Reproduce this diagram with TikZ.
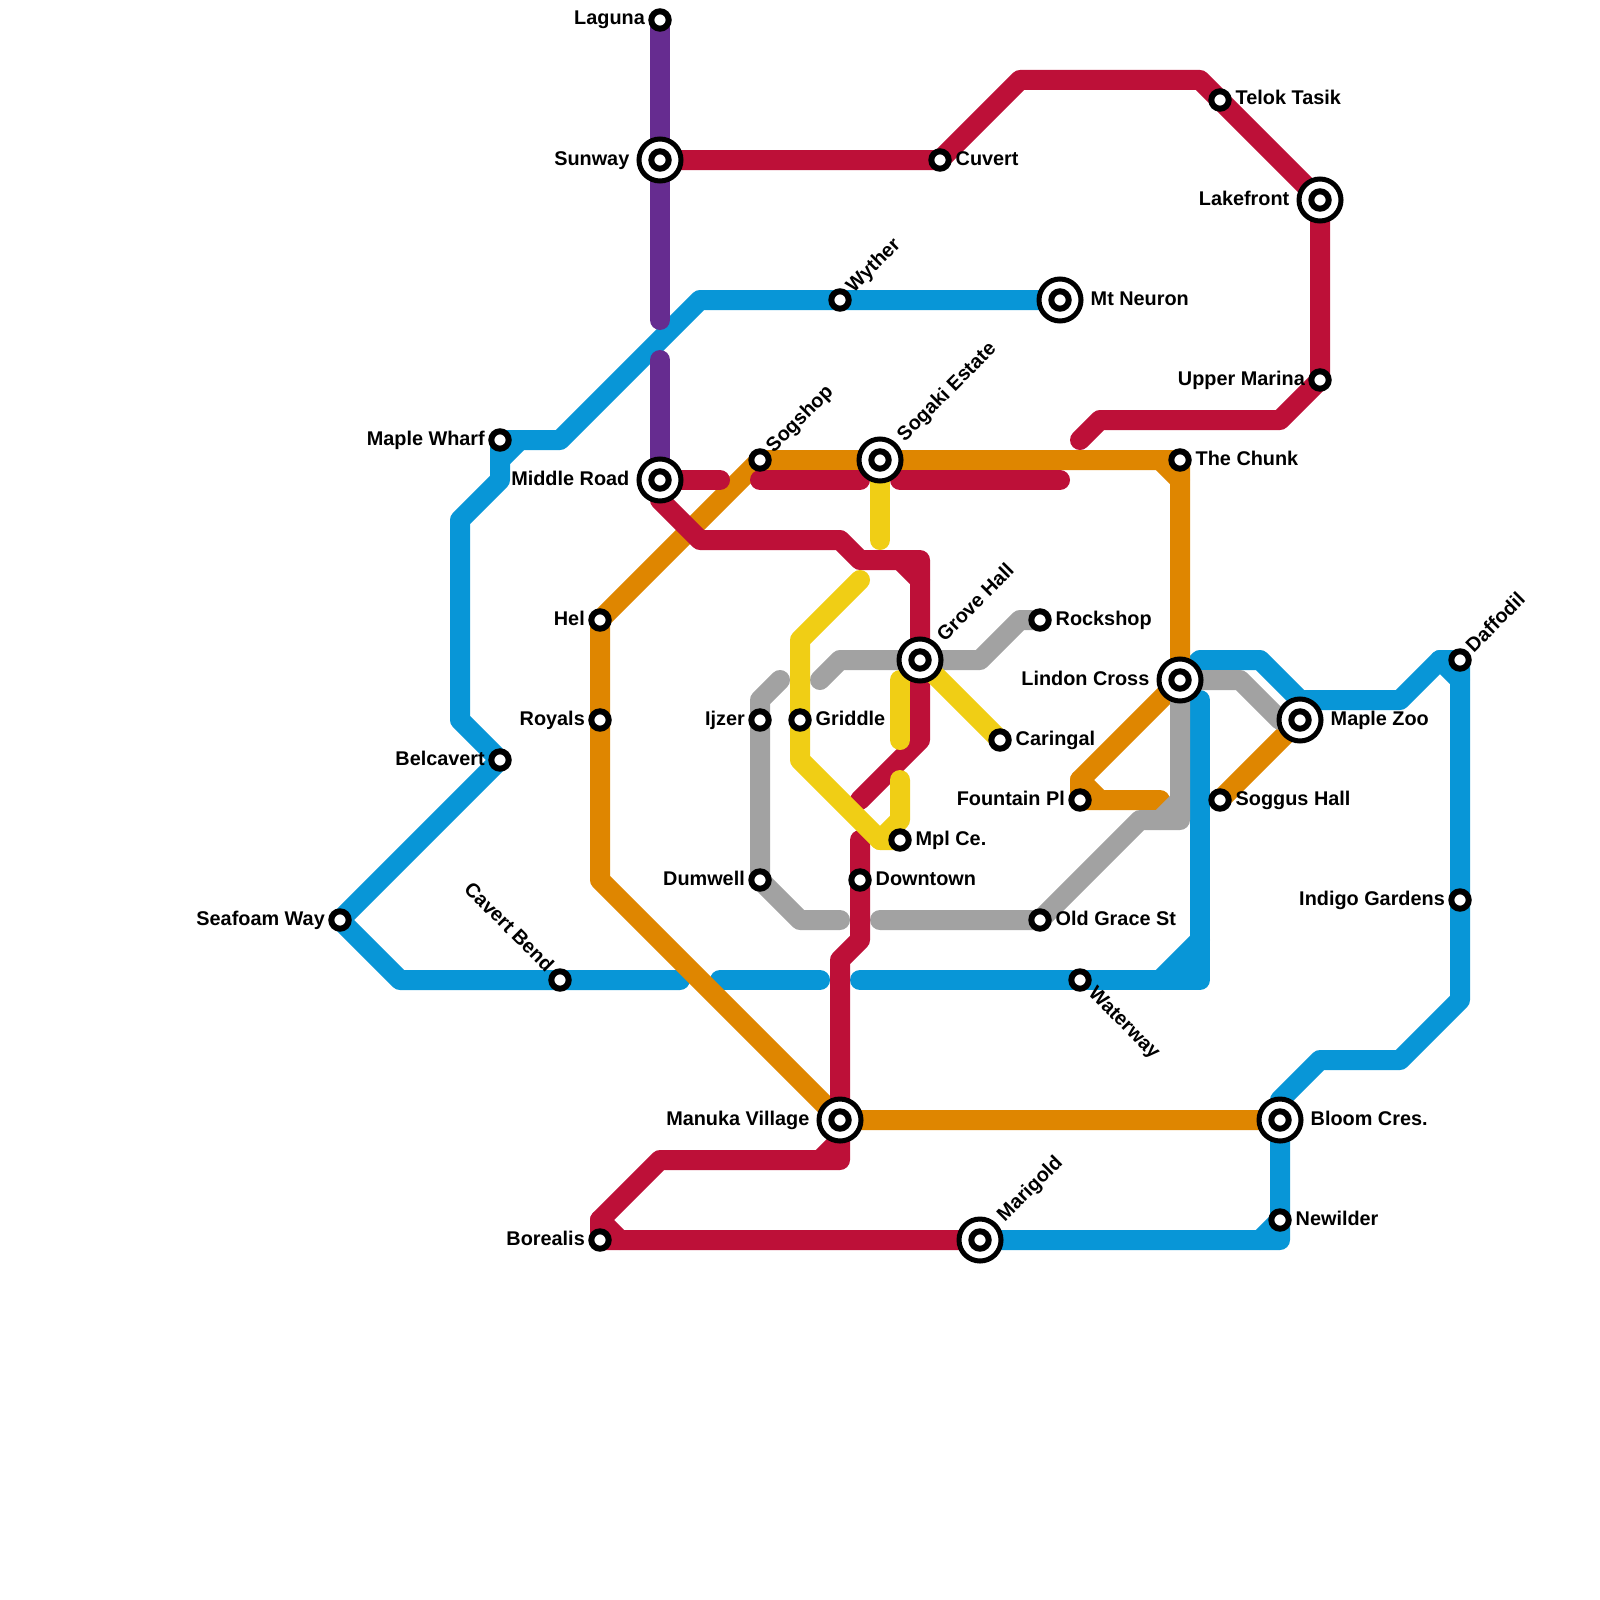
\documentclass[tikz,border=0pt]{standalone}
\usepackage{fontspec}
\setmainfont{Liberation Sans}
\usetikzlibrary{positioning}
\definecolor{railblue}{HTML}{0896D7}
\definecolor{railpurple}{HTML}{662C90}
\definecolor{railred}{HTML}{BD1038}
\definecolor{railorange}{HTML}{DF8600}
\definecolor{railgrey}{HTML}{A2A2A2}
\definecolor{railyellow}{HTML}{F0CE15}
\pgfdeclarelayer{lines}
\pgfsetlayers{lines,main}
\tikzset{
  rail/.style={line width=20pt,line cap=round,line join=round},
  stn/.style={circle,draw=black,fill=white,line width=6pt,inner sep=0pt,minimum size=17.4pt},
  hub/.style={circle,draw=black,fill=white,line width=5pt,inner sep=0pt,minimum size=42pt},
  lbl/.style={inner sep=0pt,font=\fontsize{19.85}{24}\selectfont\bfseries},
  lblW/.style={lbl,anchor=base east,xshift=-15pt,yshift=-5pt},
  lblE/.style={lbl,anchor=base west,xshift=15.5pt,yshift=-5pt},
  lblNE/.style={lbl,anchor=base west,rotate=45,xshift=14.5pt,yshift=-5pt},
  lblSE/.style={lbl,anchor=base west,rotate=-45,xshift=15.5pt,yshift=-5pt},
  lblNW/.style={lbl,anchor=base east,rotate=-45,xshift=-15pt,yshift=-5pt},
  hubW/.style={lbl,anchor=base east,xshift=-30.5pt,yshift=-5pt},
  hubE/.style={lbl,anchor=base west,xshift=30.5pt,yshift=-5pt},
  hubNE/.style={lbl,anchor=base west,rotate=45,xshift=30pt,yshift=-5pt},
}
\begin{document}
\begin{tikzpicture}[x=1pt,y=-1pt]
\useasboundingbox (0,0) rectangle (1600,1600);

% Interchanges
\node[hub] (sunway) at (660,160) {};
\node[hub] (lakefront) at (1320,200) {};
\node[hub] (mtneuron) at (1060,300) {};
\node[hub] (sogaki) at (880,460) {};
\node[hub] (middle) at (660,480) {};
\node[hub] (grove) at (920,660) {};
\node[hub] (lindon) at (1180,680) {};
\node[hub] (maplezoo) at (1300,720) {};
\node[hub] (manuka) at (840,1120) {};
\node[hub] (bloom) at (1280,1120) {};
\node[hub] (marigold) at (980,1240) {};
\foreach \s in {sunway,lakefront,mtneuron,sogaki,middle,grove,lindon,maplezoo,manuka,bloom,marigold}
  \node[stn] (\s-in) at (\s) {};

% Stations
\node[stn] (laguna) at (660,20) {};
\node[stn] (cuvert) at (940,160) {};
\node[stn] (telok) at (1220,100) {};
\node[stn] (upper) at (1320,380) {};
\node[stn] (wyther) at (840,300) {};
\node[stn] (wharf) at (500,440) {};
\node[stn] (sogshop) at (760,460) {};
\node[stn] (chunk) at (1180,460) {};
\node[stn] (hel) at (600,620) {};
\node[stn] (rockshop) at (1040,620) {};
\node[stn] (daffodil) at (1460,660) {};
\node[stn] (royals) at (600,720) {};
\node[stn] (ijzer) at (760,720) {};
\node[stn] (griddle) at (800,720) {};
\node[stn] (caringal) at (1000,740) {};
\node[stn] (belcavert) at (500,760) {};
\node[stn] (fountain) at (1080,800) {};
\node[stn] (soggus) at (1220,800) {};
\node[stn] (mpl) at (900,840) {};
\node[stn] (dumwell) at (760,880) {};
\node[stn] (downtown) at (860,880) {};
\node[stn] (indigo) at (1460,900) {};
\node[stn] (seafoam) at (340,920) {};
\node[stn] (oldgrace) at (1040,920) {};
\node[stn] (cavert) at (560,980) {};
\node[stn] (waterway) at (1080,980) {};
\node[stn] (newilder) at (1280,1220) {};
\node[stn] (borealis) at (600,1240) {};

% Free line ends
\coordinate (bA) at (680,980);
\coordinate (bB) at (720,980);
\coordinate (bC) at (820,980);
\coordinate (bD) at (860,980);
\coordinate (bE) at (1200,700);
\coordinate (pA) at (660,320);
\coordinate (pB) at (660,360);
\coordinate (rA) at (720,480);
\coordinate (rB) at (760,480);
\coordinate (rC) at (860,480);
\coordinate (rD) at (900,480);
\coordinate (rE) at (1060,480);
\coordinate (rF) at (1080,440);
\coordinate (rG) at (860,800);
\coordinate (rH) at (860,840);
\coordinate (oA) at (1160,800);
\coordinate (gA) at (780,680);
\coordinate (gB) at (840,920);
\coordinate (gC) at (880,920);
\coordinate (gD) at (820,680);
\coordinate (yA) at (880,540);
\coordinate (yB) at (860,580);
\coordinate (yC) at (900,680);
\coordinate (yD) at (900,740);
\coordinate (yE) at (900,780);

\begin{pgfonlayer}{lines}
% Blue line
\draw[rail,railblue] (mtneuron.center) -- (wyther.center) -- (700,300) -- (560,440) -- (wharf.center)
    -- (500,480) -- (460,520) -- (460,720) -- (belcavert.center) -- (seafoam.center) -- (400,980)
    -- (cavert.center) -- (bA);
\draw[rail,railblue] (500,460) -- (520,440);
\draw[rail,railblue] (bB) -- (bC);
\draw[rail,railblue] (bD) -- (waterway.center) -- (1200,980) -- (bE);
\draw[rail,railblue] (1160,980) -- (1200,940);
\fill[railblue] (1160,980) -- (1200,940) -- (1200,980) -- cycle;
\draw[rail,railblue] (lindon.center) -- (1200,660) -- (1260,660) -- (1300,700) -- (1400,700) -- (1440,660)
    -- (daffodil.center) -- (indigo.center) -- (1460,1000) -- (1400,1060) -- (1320,1060) -- (1280,1100)
    -- (bloom.center) -- (newilder.center) -- (1280,1240) -- (marigold.center);
\draw[rail,railblue] (1440,660) -- (1460,680);
\draw[rail,railblue] (1260,1240) -- (1280,1220);

% Purple line
\draw[rail,railpurple] (laguna.center) -- (sunway.center) -- (pA);
\draw[rail,railpurple] (pB) -- (middle.center);

% Orange line
\draw[rail,railorange] (hel.center) -- (sogshop.center) -- (sogaki.center) -- (chunk.center)
    -- (lindon.center) -- (1080,780) -- (fountain.center) -- (oA);
\draw[rail,railorange] (1160,460) -- (1180,480);
\draw[rail,railorange] (1080,780) -- (1100,800);
\draw[rail,railorange] (hel.center) -- (royals.center) -- (600,880) -- (manuka.center) -- (bloom.center);
\draw[rail,railorange] (soggus.center) -- (maplezoo.center);

% Grey line
\draw[rail,railgrey] (lindon.center) -- (1180,820) -- (1140,820) -- (oldgrace.center) -- (gC);
\draw[rail,railgrey] (1160,820) -- (1180,800);
\draw[rail,railgrey] (lindon.center) -- (1240,680) -- (1280,720) -- (maplezoo.center);
\draw[rail,railgrey] (gD) -- (840,660) -- (grove.center) -- (980,660) -- (1020,620) -- (rockshop.center);
\draw[rail,railgrey] (gA) -- (760,700) -- (ijzer.center) -- (dumwell.center) -- (800,920) -- (gB);

% Red line
\draw[rail,railred] (sunway.center) -- (cuvert.center) -- (1020,80) -- (1200,80) -- (telok.center)
    -- (lakefront.center) -- (upper.center) -- (1280,420) -- (1100,420) -- (rF);
\draw[rail,railred] (middle.center) -- (rA);
\draw[rail,railred] (rB) -- (rC);
\draw[rail,railred] (rD) -- (rE);
\draw[rail,railred] (middle.center) -- (660,500) -- (700,540) -- (840,540) -- (860,560) -- (920,560)
    -- (grove.center) -- (920,740) -- (rG);
\draw[rail,railred] (900,560) -- (920,580);
\draw[rail,railred] (rH) -- (downtown.center) -- (860,940) -- (840,960) -- (manuka.center) -- (840,1160)
    -- (660,1160) -- (600,1220) -- (borealis.center) -- (marigold.center);
\draw[rail,railred] (820,1160) -- (840,1140);
\draw[rail,railred] (600,1220) -- (620,1240);

% Yellow line
\draw[rail,railyellow] (sogaki.center) -- (yA);
\draw[rail,railyellow] (yB) -- (800,640) -- (griddle.center) -- (800,760) -- (880,840) -- (mpl.center);
\draw[rail,railyellow] (880,840) -- (900,820) -- (yE);
\draw[rail,railyellow] (yC) -- (yD);
\draw[rail,railyellow] (grove.center) -- (caringal.center);
\end{pgfonlayer}

% Station labels
\node[lblW] (laguna-t) at (laguna) {Laguna};
\node[hubW] (sunway-t) at (sunway) {Sunway};
\node[lblE] (cuvert-t) at (cuvert) {Cuvert};
\node[lblE] (telok-t) at (telok) {Telok Tasik};
\node[hubW] (lakefront-t) at (lakefront) {Lakefront};
\node[lblNE] (wyther-t) at (wyther) {Wyther};
\node[hubE] (mtneuron-t) at (mtneuron) {Mt Neuron};
\node[lblW] (upper-t) at (upper) {Upper Marina};
\node[lblW] (wharf-t) at (wharf) {Maple Wharf};
\node[lblNE] (sogshop-t) at (sogshop) {Sogshop};
\node[hubNE] (sogaki-t) at (sogaki) {Sogaki Estate};
\node[lblE] (chunk-t) at (chunk) {The Chunk};
\node[hubW] (middle-t) at (middle) {Middle Road};
\node[lblW] (hel-t) at (hel) {Hel};
\node[lblE] (rockshop-t) at (rockshop) {Rockshop};
\node[hubNE] (grove-t) at (grove) {Grove Hall};
\node[hubW] (lindon-t) at (lindon) {Lindon Cross};
\node[lblNE] (daffodil-t) at (daffodil) {Daffodil};
\node[lblW] (royals-t) at (royals) {Royals};
\node[lblW] (ijzer-t) at (ijzer) {Ijzer};
\node[lblE] (griddle-t) at (griddle) {Griddle};
\node[hubE] (maplezoo-t) at (maplezoo) {Maple Zoo};
\node[lblE] (caringal-t) at (caringal) {Caringal};
\node[lblW] (belcavert-t) at (belcavert) {Belcavert};
\node[lblW] (fountain-t) at (fountain) {Fountain Pl};
\node[lblE] (soggus-t) at (soggus) {Soggus Hall};
\node[lblE] (mpl-t) at (mpl) {Mpl Ce.};
\node[lblW] (dumwell-t) at (dumwell) {Dumwell};
\node[lblE] (downtown-t) at (downtown) {Downtown};
\node[lblW] (indigo-t) at (indigo) {Indigo Gardens};
\node[lblW] (seafoam-t) at (seafoam) {Seafoam Way};
\node[lblE] (oldgrace-t) at (oldgrace) {Old Grace St};
\node[lblNW] (cavert-t) at (cavert) {Cavert Bend};
\node[lblSE] (waterway-t) at (waterway) {Waterway};
\node[hubW] (manuka-t) at (manuka) {Manuka Village};
\node[hubE] (bloom-t) at (bloom) {Bloom Cres.};
\node[lblE] (newilder-t) at (newilder) {Newilder};
\node[lblW] (borealis-t) at (borealis) {Borealis};
\node[hubNE] (marigold-t) at (marigold) {Marigold};
\end{tikzpicture}
\end{document}
